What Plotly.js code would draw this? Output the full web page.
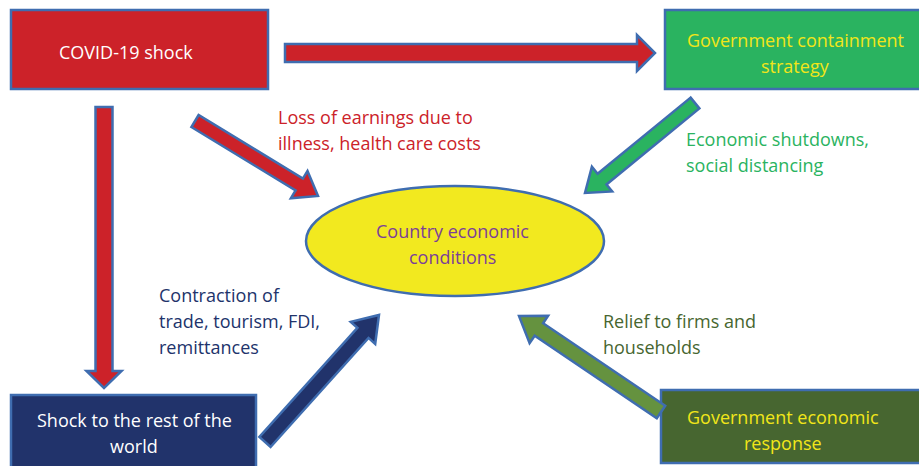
<!DOCTYPE html>
<html><head><meta charset="utf-8">
<script src="https://cdn.plot.ly/plotly-3.0.1.min.js"></script>
<style>html,body{margin:0;padding:0;background:#fff}#c{width:919px;height:466px}</style>
</head><body><div id="c"></div>
<script>
// ---- content ----
const nodeLabels = ["COVID-19 shock", "Government containment<br>strategy", "Shock to the rest of the<br>world", "Government economic<br>response", "Country economic<br>conditions"];
const channelLabels = ["Loss of earnings due to<br>illness, health care costs", "Economic shutdowns,<br>social distancing", "Contraction of<br>trade, tourism, FDI,<br>remittances", "Relief to firms and<br>households"];

// ---- layout / style ----
const BORDER = "#3f6db0";
const FONT = "Open Sans";
const FS = 18;
const LINE = 26;
const boxes = [
  {x0:11, y0:10, x1:268, y1:89, fill:"#cc2229", text:"#ffffff", tx:126, ty:52},
  {x0:665, y0:10, x1:922, y1:89, fill:"#2ab360", text:"#f2e619", tx:795, ty:53},
  {x0:11, y0:395, x1:256, y1:470, fill:"#21336b", text:"#ffffff", tx:134, ty:433},
  {x0:661, y0:390, x1:922, y1:463, fill:"#476630", text:"#f2e619", tx:783, ty:429.5}
];
const ell = {x0:306, y0:186, x1:604, y1:296, fill:"#f2e91f", text:"#7b3f98", tx:452, ty:244};
const arrows = [
  {t:[285,53], h:[655,53], sw:18, hw:36, hl:18, fill:"#cc2229"},
  {t:[104,107], h:[104,388], sw:17, hw:35, hl:17, fill:"#cc2229"},
  {t:[195,121], h:[318,196], sw:14, hw:32, hl:22, fill:"#cc2229"},
  {t:[695,103], h:[585,193], sw:14, hw:32, hl:22, fill:"#2ab360"},
  {t:[265,442], h:[379,315], sw:15, hw:33, hl:24, fill:"#21336b"},
  {t:[661,412], h:[519,316], sw:15, hw:33, hl:24, fill:"#65923f"}
];
const channelPos = [
  {x:276, y:130, color:"#cc2229"},
  {x:684, y:152, color:"#2ab360"},
  {x:157, y:321, color:"#21336b"},
  {x:601, y:334, color:"#476630"}
];

function arrowPath(a){
  const dx=a.h[0]-a.t[0], dy=a.h[1]-a.t[1];
  const L=Math.hypot(dx,dy), ux=dx/L, uy=dy/L, px=-uy, py=ux;
  const bx=a.h[0]-ux*a.hl, by=a.h[1]-uy*a.hl;
  const pts=[
    [a.t[0]+px*a.sw/2, a.t[1]+py*a.sw/2],
    [bx+px*a.sw/2, by+py*a.sw/2],
    [bx+px*a.hw/2, by+py*a.hw/2],
    [a.h[0], a.h[1]],
    [bx-px*a.hw/2, by-py*a.hw/2],
    [bx-px*a.sw/2, by-py*a.sw/2],
    [a.t[0]-px*a.sw/2, a.t[1]-py*a.sw/2]
  ];
  return "M"+pts.map(p=>p[0].toFixed(1)+","+p[1].toFixed(1)).join(" L")+" Z";
}

const shapes=[];
const annotations=[];
function addText(label, x, y, color, anchor){
  const lines = label.split("<br>");
  lines.forEach((ln,i)=>{
    annotations.push({x:x, y:y+(i-(lines.length-1)/2)*LINE, xref:"x", yref:"y",
      xanchor:anchor, yanchor:"middle", text:ln, showarrow:false,
      font:{family:FONT,size:FS,color:color}, align:anchor==="left"?"left":"center"});
  });
}
boxes.forEach((b,i)=>{
  shapes.push({type:"rect",xref:"x",yref:"y",x0:b.x0,y0:b.y0,x1:b.x1,y1:b.y1,fillcolor:b.fill,line:{color:BORDER,width:2.5},layer:"above"});
  addText(nodeLabels[i], b.tx, b.ty, b.text, "center");
});
shapes.push({type:"circle",xref:"x",yref:"y",x0:ell.x0,y0:ell.y0,x1:ell.x1,y1:ell.y1,fillcolor:ell.fill,line:{color:BORDER,width:2.5},layer:"above"});
addText(nodeLabels[4], ell.tx, ell.ty, ell.text, "center");
arrows.forEach(a=>{
  shapes.push({type:"path",xref:"x",yref:"y",path:arrowPath(a),fillcolor:a.fill,line:{color:BORDER,width:2.5},layer:"above"});
});
channelPos.forEach((c,i)=>{
  addText(channelLabels[i], c.x, c.y, c.color, "left");
});

const layout={
  width:919,height:466,margin:{l:0,r:0,t:0,b:0},
  paper_bgcolor:"#ffffff",plot_bgcolor:"#ffffff",
  xaxis:{range:[0,919],visible:false,fixedrange:true},
  yaxis:{range:[466,0],visible:false,fixedrange:true},
  showlegend:false,shapes:shapes,annotations:annotations
};
Plotly.newPlot("c",[{x:[],y:[],type:"scatter",mode:"markers",hoverinfo:"skip"}],layout,{displayModeBar:false,staticPlot:true});
</script></body></html>
